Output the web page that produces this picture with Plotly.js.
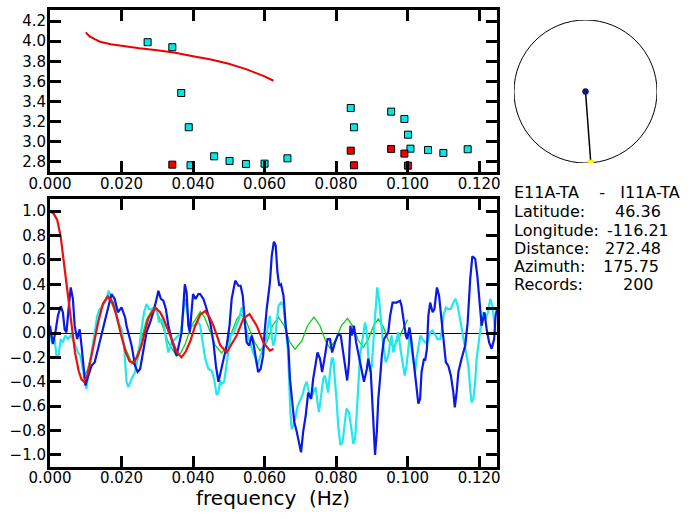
<!DOCTYPE html>
<html>
<head>
<meta charset="utf-8">
<script src="https://cdn.plot.ly/plotly-3.0.1.min.js"></script>
<style>html,body{margin:0;padding:0;background:#fff;}#plot{width:696px;height:519px;}</style>
</head>
<body>
<div id="plot"></div>
<script>
// ---------- top panel: phase velocity ----------
const velCurveF = [0.0100, 0.0110, 0.0125, 0.0140, 0.0170, 0.0200, 0.0250, 0.0300, 0.0350, 0.0400, 0.0450, 0.0500, 0.0550, 0.0600, 0.0625];
const velCurveV = [4.088, 4.05, 4.02, 3.995, 3.97, 3.953, 3.93, 3.91, 3.885, 3.85, 3.818, 3.775, 3.72, 3.65, 3.607];
const cyanPtsF = [0.0273, 0.0342, 0.0367, 0.0388, 0.0393, 0.0459, 0.0502, 0.0548, 0.0600, 0.0664, 0.0841, 0.0850, 0.0954, 0.0991, 0.1001, 0.1008, 0.1057, 0.1100, 0.1168];
const cyanPtsV = [3.99, 3.94, 3.485, 3.145, 2.767, 2.856, 2.81, 2.78, 2.783, 2.836, 3.336, 3.144, 3.30, 3.227, 3.071, 2.932, 2.919, 2.889, 2.926];
const redPtsF = [0.0342, 0.0841, 0.0850, 0.0954, 0.0991, 0.1001];
const redPtsV = [2.773, 2.912, 2.767, 2.929, 2.883, 2.763];

// ---------- bottom panel: coherency ----------
const blueF = [0, 0.0004, 0.0008, 0.0015, 0.0022, 0.003, 0.0036, 0.0041, 0.0046, 0.0052, 0.0058, 0.0064, 0.0069, 0.0076, 0.0083, 0.0088, 0.0095, 0.0099, 0.0104, 0.0116, 0.0125, 0.0134, 0.0144, 0.0153, 0.0162, 0.0172, 0.0181, 0.019, 0.0200, 0.0205, 0.021, 0.0214, 0.0219, 0.0228, 0.0238, 0.0245, 0.0252, 0.0261, 0.027, 0.028, 0.0289, 0.0298, 0.0303, 0.031, 0.0317, 0.0324, 0.0331, 0.034, 0.035, 0.0354, 0.036, 0.0368, 0.0373, 0.0377, 0.0382, 0.0387, 0.0391, 0.0396, 0.04, 0.0407, 0.0415, 0.042, 0.0429, 0.0438, 0.0448, 0.0457, 0.0464, 0.0471, 0.0477, 0.0485, 0.0494, 0.0502, 0.0508, 0.0518, 0.0527, 0.0533, 0.0539, 0.0545, 0.055, 0.0557, 0.0564, 0.057, 0.0578, 0.0582, 0.0589, 0.0596, 0.06, 0.0606, 0.0615, 0.062, 0.0626, 0.0631, 0.0636, 0.0641, 0.0646, 0.0653, 0.0659, 0.0667, 0.0671, 0.0678, 0.0683, 0.069, 0.0697, 0.0702, 0.0708, 0.0715, 0.0722, 0.073, 0.0736, 0.0743, 0.0748, 0.0755, 0.0761, 0.0769, 0.0776, 0.0783, 0.0789, 0.0797, 0.0806, 0.0813, 0.082, 0.0826, 0.0831, 0.0836, 0.0840, 0.0844, 0.085, 0.0856, 0.0863, 0.0872, 0.0878, 0.0886, 0.089, 0.0897, 0.0902, 0.0906, 0.0909, 0.0914, 0.0918, 0.0923, 0.0928, 0.0934, 0.094, 0.0946, 0.0951, 0.0958, 0.0969, 0.0979, 0.0983, 0.0988, 0.0995, 0.0999, 0.1005, 0.101, 0.1016, 0.1022, 0.103, 0.1035, 0.1039, 0.1046, 0.1049, 0.1054, 0.1058, 0.1063, 0.107, 0.1075, 0.1082, 0.1088, 0.1094, 0.11, 0.1107, 0.1114, 0.1121, 0.1128, 0.1132, 0.1137, 0.1142, 0.1151, 0.1161, 0.1168, 0.1175, 0.1181, 0.1189, 0.1195, 0.1201, 0.1207, 0.1215, 0.1221, 0.1228, 0.1235, 0.1242, 0.1246, 0.125];
const blueV = [0.06, -0.02, -0.09, 0.005, 0.14, 0.22, 0.17, 0.03, 0.005, 0.2, 0.374, 0.28, 0.06, -0.05, 0.03, -0.10, -0.32, -0.43, -0.38, -0.27, -0.24, -0.13, -0.02, 0.087, 0.197, 0.32, 0.28, 0.17, 0.21, 0.17, 0.128, 0.06, 0.005, -0.10, -0.27, -0.32, -0.295, -0.13, 0.005, 0.087, 0.17, 0.28, 0.347, 0.28, 0.265, 0.197, 0.06, -0.05, -0.16, -0.186, -0.104, 0.005, 0.224, 0.40, 0.333, 0.06, 0.005, 0.197, 0.32, 0.28, 0.32, 0.32, 0.28, 0.197, 0.087, -0.077, -0.27, -0.40, -0.32, -0.24, -0.104, 0.06, 0.28, 0.43, 0.388, 0.388, 0.306, 0.087, -0.077, -0.104, -0.02, -0.104, -0.27, -0.32, -0.295, -0.186, 0.005, 0.197, 0.415, 0.63, 0.75, 0.72, 0.50, 0.388, 0.40, 0.306, 0.06, -0.13, -0.377, -0.596, -0.73, -0.81, -0.92, -0.98, -0.81, -0.68, -0.49, -0.54, -0.377, -0.24, -0.16, -0.21, -0.32, -0.186, -0.05, -0.05, -0.16, -0.077, -0.01, -0.02, -0.16, -0.32, -0.39, -0.25, 0.06, -0.02, 0.06, -0.077, -0.186, -0.295, -0.40, -0.295, -0.21, -0.32, -0.596, -0.87, -1.0, -0.81, -0.54, -0.377, -0.186, -0.05, -0.02, 0.005, 0.14, 0.25, 0.25, 0.265, 0.224, 0.115, -0.02, -0.05, 0.046, -0.05, -0.21, -0.377, -0.58, -0.54, -0.32, -0.21, -0.227, -0.13, 0.14, 0.25, 0.17, 0.197, 0.374, 0.306, 0.115, -0.05, -0.24, -0.27, -0.35, -0.49, -0.61, -0.49, -0.32, -0.21, -0.104, 0.087, 0.44, 0.63, 0.61, 0.47, 0.25, 0.06, 0.17, 0.033, -0.077, -0.13, -0.05, 0.14, 0.197];

const cyanF = [0, 0.0005, 0.0013, 0.0019, 0.0024, 0.003, 0.0036, 0.0043, 0.005, 0.0058, 0.0064, 0.007, 0.0078, 0.0085, 0.0092, 0.0097, 0.0102, 0.0106, 0.0116, 0.0125, 0.0132, 0.0139, 0.0148, 0.0158, 0.0164, 0.0172, 0.0181, 0.019, 0.02, 0.0207, 0.0211, 0.0214, 0.0219, 0.0228, 0.0238, 0.0247, 0.0256, 0.0263, 0.027, 0.0277, 0.0284, 0.0292, 0.0298, 0.0305, 0.0312, 0.0319, 0.0326, 0.0331, 0.034, 0.035, 0.0359, 0.0366, 0.0373, 0.0377, 0.0383, 0.0389, 0.0396, 0.0405, 0.0415, 0.042, 0.0427, 0.0434, 0.0443, 0.0452, 0.0459, 0.0466, 0.0471, 0.0476, 0.048, 0.0487, 0.0492, 0.0499, 0.0505, 0.0513, 0.0522, 0.0529, 0.0536, 0.054, 0.0545, 0.055, 0.0559, 0.0568, 0.0575, 0.0579, 0.0585, 0.0592, 0.0598, 0.0603, 0.061, 0.0615, 0.0619, 0.0624, 0.0629, 0.0634, 0.0639, 0.0646, 0.0653, 0.0659, 0.0665, 0.0669, 0.0672, 0.0676, 0.0681, 0.0687, 0.0693, 0.0699, 0.0706, 0.0713, 0.0718, 0.0722, 0.073, 0.0736, 0.0743, 0.0748, 0.0752, 0.0757, 0.0764, 0.0769, 0.0773, 0.0778, 0.0783, 0.0788, 0.0792, 0.0797, 0.0801, 0.0806, 0.0812, 0.0818, 0.0825, 0.0829, 0.0836, 0.0839, 0.0844, 0.0848, 0.0853, 0.0858, 0.0863, 0.0867, 0.0874, 0.0881, 0.0886, 0.089, 0.0895, 0.09, 0.0906, 0.0911, 0.0915, 0.092, 0.0926, 0.0932, 0.0939, 0.0946, 0.095, 0.0955, 0.096, 0.0967, 0.0974, 0.098, 0.0988, 0.0992, 0.0997, 0.1002, 0.1006, 0.1011, 0.1016, 0.1021, 0.1025, 0.103, 0.1036, 0.1042, 0.1049, 0.1056, 0.1063, 0.107, 0.1077, 0.1084, 0.1091, 0.1095, 0.11, 0.1107, 0.1114, 0.1121, 0.1128, 0.1134, 0.114, 0.1147, 0.1153, 0.1159, 0.1165, 0.117, 0.1175, 0.1179, 0.1184, 0.1189, 0.1193, 0.12, 0.1205, 0.1212, 0.1218, 0.1225, 0.1231, 0.1237, 0.1242, 0.1246];
const cyanV = [0.005, -0.077, -0.05, -0.21, -0.186, -0.05, -0.077, -0.02, -0.05, -0.02, -0.05, -0.104, -0.16, -0.186, -0.295, -0.40, -0.46, -0.35, -0.16, 0.005, 0.14, 0.197, 0.224, 0.28, 0.347, 0.28, 0.224, 0.087, 0.033, -0.104, -0.28, -0.40, -0.445, -0.377, -0.32, -0.186, 0.033, 0.17, 0.238, 0.197, 0.197, 0.21, 0.197, 0.087, 0.115, 0.06, -0.077, -0.16, -0.077, -0.05, -0.02, 0.005, 0.17, 0.28, 0.197, 0.074, 0.06, 0.06, 0.087, 0.06, -0.077, -0.21, -0.295, -0.31, -0.377, -0.51, -0.49, -0.39, -0.42, -0.40, -0.295, -0.16, -0.02, 0.005, 0.06, 0.115, 0.21, 0.17, 0.06, 0.005, -0.077, -0.16, -0.21, -0.27, -0.21, -0.16, -0.104, -0.077, 0.06, 0.14, 0.005, -0.104, -0.06, 0.115, 0.224, 0.25, 0.224, 0.06, -0.13, -0.40, -0.65, -0.79, -0.76, -0.68, -0.596, -0.555, -0.51, -0.43, -0.40, -0.46, -0.54, -0.49, -0.445, -0.57, -0.65, -0.54, -0.377, -0.35, -0.43, -0.49, -0.32, -0.21, -0.21, -0.377, -0.54, -0.76, -0.92, -0.90, -0.73, -0.62, -0.65, -0.70, -0.81, -0.91, -0.87, -0.65, -0.377, -0.186, -0.05, 0.087, 0.005, -0.186, -0.32, -0.27, 0.005, 0.224, 0.374, 0.28, 0.06, -0.104, -0.24, -0.186, -0.104, -0.02, -0.16, -0.077, 0.005, -0.13, -0.27, -0.35, -0.27, -0.13, -0.02, -0.13, -0.24, -0.32, -0.21, -0.104, -0.02, -0.05, -0.077, -0.077, 0.005, 0.02, -0.02, -0.05, -0.05, 0.005, 0.14, 0.21, 0.197, 0.197, 0.25, 0.28, 0.224, 0.115, 0.005, -0.077, -0.16, -0.27, -0.46, -0.57, -0.54, -0.40, -0.21, -0.05, 0.06, 0.17, 0.115, 0.17, 0.28, 0.224, 0.115, 0.005];

const redF = [0, 0.001, 0.002, 0.003, 0.004, 0.005, 0.0062, 0.007, 0.008, 0.0088, 0.0095, 0.0105, 0.012, 0.0134, 0.0148, 0.0162, 0.0175, 0.0188, 0.02, 0.0212, 0.0222, 0.0233, 0.0245, 0.0256, 0.0275, 0.0294, 0.0308, 0.0317, 0.034, 0.0355, 0.0368, 0.038, 0.0392, 0.0406, 0.042, 0.0434, 0.0446, 0.0457, 0.0476, 0.0494, 0.0508, 0.0522, 0.0541, 0.0558, 0.0578, 0.0597, 0.0615, 0.0625];
const redV = [1.0, 0.98, 0.93, 0.79, 0.55, 0.30, 0.0, -0.16, -0.31, -0.38, -0.40, -0.34, -0.13, 0.08, 0.24, 0.30, 0.25, 0.12, -0.03, -0.16, -0.23, -0.25, -0.19, -0.10, 0.12, 0.21, 0.17, 0.12, -0.05, -0.16, -0.20, -0.15, -0.07, 0.06, 0.15, 0.18, 0.13, 0.06, -0.10, -0.16, -0.09, -0.02, 0.12, 0.155, 0.06, -0.08, -0.145, -0.13];

const greenF = [0.0093, 0.0105, 0.0116, 0.0125, 0.0134, 0.0145, 0.0157, 0.0168, 0.0181, 0.019, 0.02, 0.021, 0.0228, 0.024, 0.0252, 0.027, 0.0289, 0.03, 0.0312, 0.0331, 0.0354, 0.0366, 0.0378, 0.0396, 0.042, 0.0432, 0.0443, 0.0462, 0.048, 0.0492, 0.0503, 0.0522, 0.0533, 0.0545, 0.0555, 0.0573, 0.0587, 0.0606, 0.0622, 0.0639, 0.0655, 0.067, 0.0685, 0.0705, 0.072, 0.0738, 0.0755, 0.077, 0.0783, 0.0798, 0.0815, 0.0832, 0.0848, 0.0862, 0.0876, 0.089, 0.0905, 0.0918, 0.0932, 0.0946, 0.096, 0.0975, 0.0988, 0.1];
const greenV = [-0.37, -0.30, -0.17, -0.04, 0.10, 0.22, 0.29, 0.27, 0.19, 0.10, -0.01, -0.12, -0.24, -0.21, -0.09, 0.11, 0.21, 0.17, 0.08, -0.08, -0.19, -0.16, -0.09, 0.06, 0.175, 0.13, 0.05, -0.10, -0.164, -0.12, -0.03, 0.11, 0.156, 0.12, 0.05, -0.08, -0.145, -0.077, 0.06, 0.13, 0.06, -0.07, -0.135, -0.06, 0.06, 0.13, 0.06, -0.06, -0.125, -0.06, 0.06, 0.12, 0.05, -0.06, -0.12, -0.05, 0.06, 0.115, 0.05, -0.06, -0.11, -0.05, 0.04, 0.11];

// ---------- station info ----------
const stationPair = 'E11A-TA\u00a0\u00a0\u00a0\u00a0-\u00a0\u00a0\u00a0I11A-TA';
const statLabels = ['Latitude:', 'Longitude:', 'Distance:', 'Azimuth:', 'Records:'];
const statValues = ['46.36', '-116.21', '272.48', '175.75', '200'];
const azimuthDeg = 175.75;

const freqTicks = [0, 0.02, 0.04, 0.06, 0.08, 0.10, 0.12];
const freqTickText = ['0.000', '0.020', '0.040', '0.060', '0.080', '0.100', '0.120'];
const velTicks = [2.8, 3.0, 3.2, 3.4, 3.6, 3.8, 4.0, 4.2];
const cohTicks = [-1.0, -0.8, -0.6, -0.4, -0.2, 0.0, 0.2, 0.4, 0.6, 0.8, 1.0];

const W = 696, H = 519;
const px = v => v / W;
const py = v => 1 - v / H;
const FONT = 'DejaVu Sans, sans-serif';

const az = azimuthDeg * Math.PI / 180;
const endX = Math.sin(az), endY = Math.cos(az);

const traces = [
  {x: velCurveF, y: velCurveV, xaxis: 'x', yaxis: 'y', mode: 'lines', line: {color: '#ee0000', width: 2}, hoverinfo: 'skip'},
  {x: cyanPtsF, y: cyanPtsV, xaxis: 'x', yaxis: 'y', mode: 'markers', marker: {symbol: 'square', size: 7, color: '#00e8e8', line: {color: '#000', width: 1}}},
  {x: redPtsF, y: redPtsV, xaxis: 'x', yaxis: 'y', mode: 'markers', marker: {symbol: 'square', size: 7, color: '#ee0000', line: {color: '#000', width: 1}}},
  {x: greenF, y: greenV, xaxis: 'x2', yaxis: 'y2', mode: 'lines', line: {color: '#10d010', width: 1.3}},
  {x: cyanF, y: cyanV, xaxis: 'x2', yaxis: 'y2', mode: 'lines', line: {color: '#20e8ee', width: 2.2}},
  {x: blueF, y: blueV, xaxis: 'x2', yaxis: 'y2', mode: 'lines', line: {color: '#0a18e8', width: 2.2}},
  {x: redF, y: redV, xaxis: 'x2', yaxis: 'y2', mode: 'lines', line: {color: '#ee1010', width: 2.2}},
  {x: [0, endX], y: [0, endY], xaxis: 'x3', yaxis: 'y3', mode: 'lines', line: {color: '#000', width: 1.5}},
  {x: [0], y: [0], xaxis: 'x3', yaxis: 'y3', mode: 'markers', marker: {size: 6, color: '#0a1890', line: {color: '#000', width: 0.5}}},
  {x: [endX], y: [endY], xaxis: 'x3', yaxis: 'y3', mode: 'markers', marker: {size: 6, color: '#ffff00', line: {color: '#c8c800', width: 0.5}}}
];

const axisCommon = {
  showline: true, linewidth: 3, linecolor: '#000', mirror: 'ticks',
  ticks: 'inside', ticklen: 11, tickwidth: 3, tickcolor: '#000',
  showgrid: false, zeroline: false, fixedrange: true,
  tickfont: {family: FONT, size: 15, color: '#000'}
};

const annotations = [
  {text: 'frequency\u00a0\u00a0(Hz)', x: px(273), y: py(498), xref: 'paper', yref: 'paper', showarrow: false, xanchor: 'center', yanchor: 'middle', font: {family: FONT, size: 20, color: '#000'}},
  {text: stationPair, x: px(513), y: py(192), xref: 'paper', yref: 'paper', showarrow: false, xanchor: 'left', yanchor: 'middle', borderpad: 0, font: {family: FONT, size: 16, color: '#000'}}
];
const valueEnds = [662, 670, 662, 660, 655];
statLabels.forEach((lab, i) => {
  const yy = py(212 + 18 * i);
  annotations.push({text: lab, x: px(513), y: yy, xref: 'paper', yref: 'paper', showarrow: false, xanchor: 'left', yanchor: 'middle', borderpad: 0, font: {family: FONT, size: 16, color: '#000'}});
  annotations.push({text: statValues[i], x: px(valueEnds[i]), y: yy, xref: 'paper', yref: 'paper', showarrow: false, xanchor: 'right', yanchor: 'middle', borderpad: 0, font: {family: FONT, size: 16, color: '#000'}});
});

const layout = {
  width: W, height: H,
  margin: {l: 0, r: 0, t: 0, b: 0, pad: 0},
  paper_bgcolor: '#fff', plot_bgcolor: 'rgba(0,0,0,0)',
  showlegend: false,
  xaxis: Object.assign({}, axisCommon, {domain: [px(50), px(497)], anchor: 'y', range: [0, 0.125], tickvals: freqTicks, ticktext: freqTickText, ticklabelstandoff: -4}),
  yaxis: Object.assign({}, axisCommon, {domain: [py(172), py(10)], anchor: 'x', range: [2.70, 4.31], tickvals: velTicks, tickformat: '.1f', ticklabelstandoff: -2}),
  xaxis2: Object.assign({}, axisCommon, {domain: [px(50), px(497)], anchor: 'y2', range: [0, 0.125], tickvals: freqTicks, ticktext: freqTickText, ticklabelstandoff: -5}),
  yaxis2: Object.assign({}, axisCommon, {domain: [py(467), py(199)], anchor: 'x2', range: [-1.1, 1.1], tickvals: cohTicks, tickformat: '.1f', zeroline: true, zerolinecolor: '#000', zerolinewidth: 1, ticklabelstandoff: -2}),
  xaxis3: {domain: [px(514), px(657)], anchor: 'y3', range: [-1, 1], visible: false, fixedrange: true},
  yaxis3: {domain: [py(163), py(20)], anchor: 'x3', range: [-1, 1], visible: false, fixedrange: true},
  shapes: [
    {type: 'circle', xref: 'x3', yref: 'y3', x0: -1, x1: 1, y0: -1, y1: 1, line: {color: '#000', width: 1}, layer: 'below'}
  ],
  annotations: annotations
};

Plotly.newPlot('plot', traces, layout, {staticPlot: true, displayModeBar: false});
</script>
</body>
</html>
